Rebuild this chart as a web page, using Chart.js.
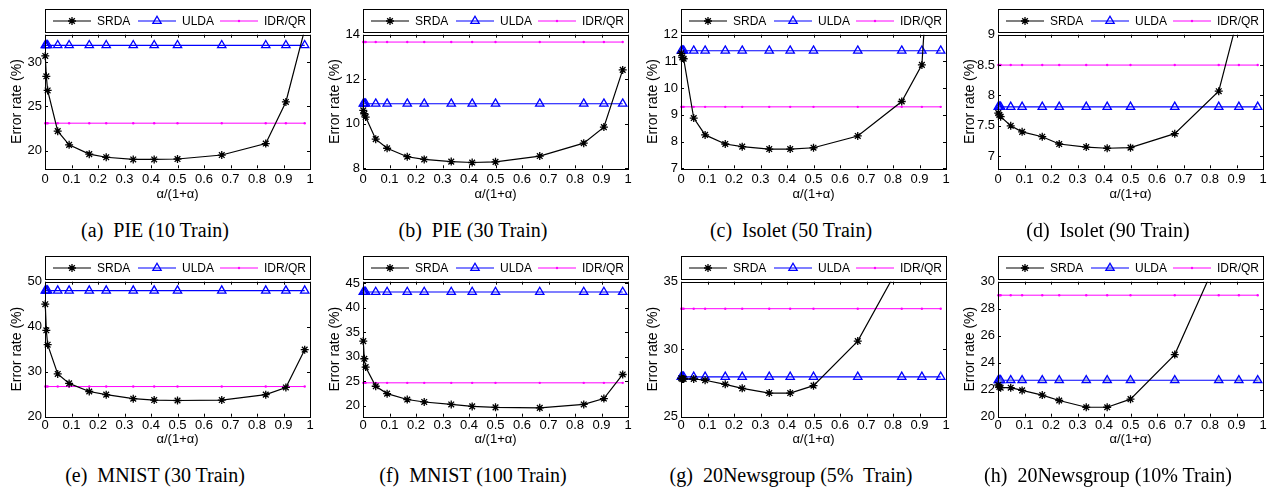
<!DOCTYPE html>
<html>
<head>
<meta charset="utf-8">
<script src="https://cdn.jsdelivr.net/npm/chart.js@4.4.1/dist/chart.umd.min.js"></script>
<style>
  html, body { margin: 0; padding: 0; background: #fff; }
  #figure { position: relative; width: 1271px; height: 489px; overflow: hidden; }
  .panel { position: absolute; width: 318px; height: 210px; }
  .caption {
    position: absolute; width: 310px; text-align: center;
    font-family: 'Liberation Serif', 'Times New Roman', serif;
    font-size: 20px; line-height: 24px; white-space: pre; color: #000;
  }
</style>
</head>
<body>
<div id="figure"></div>
<script>
// ------------------------------------------------------------
// Error rate vs alpha/(1+alpha) — SRDA / ULDA / IDR/QR, 8 panels
// ------------------------------------------------------------

const seriesNames = ['SRDA', 'ULDA', 'IDR/QR'];

// x positions: alpha/(1+alpha)
const alphaRatio = [0.001, 0.005, 0.01, 0.048, 0.091, 0.167, 0.231, 0.333, 0.412, 0.5, 0.667, 0.833, 0.909, 0.98];
const xTicks = [0, 0.1, 0.2, 0.3, 0.4, 0.5, 0.6, 0.7, 0.8, 0.9, 1];

// (a) PIE 10 Train
const srdaPie10 = [30.7, 28.4, 26.8, 22.2, 20.65, 19.6, 19.25, 19.0, 19.0, 19.05, 19.5, 20.8, 25.5, 33.7];
const uldaPie10 = [31.9, 31.9, 31.9, 31.9, 31.9, 31.9, 31.9, 31.9, 31.9, 31.9, 31.9, 31.9, 31.9, 31.9];
const idrPie10  = [23.1, 23.1, 23.1, 23.1, 23.1, 23.1, 23.1, 23.1, 23.1, 23.1, 23.1, 23.1, 23.1, 23.1];
const yTicksPie10 = [20, 25, 30];

// (b) PIE 30 Train
const srdaPie30 = [10.6, 10.45, 10.3, 9.31, 8.9, 8.52, 8.4, 8.3, 8.26, 8.29, 8.55, 9.13, 9.85, 12.42];
const uldaPie30 = [10.9, 10.9, 10.9, 10.9, 10.9, 10.9, 10.9, 10.9, 10.9, 10.9, 10.9, 10.9, 10.9, 10.9];
const idrPie30  = [13.67, 13.67, 13.67, 13.67, 13.67, 13.67, 13.67, 13.67, 13.67, 13.67, 13.67, 13.67, 13.67, 13.67];
const yTicksPie30 = [8, 10, 12, 14];

// (c) Isolet 50 Train
const srdaIso50 = [11.3, 11.15, 11.1, 8.88, 8.25, 7.91, 7.81, 7.72, 7.72, 7.77, 8.21, 9.5, 10.87, 22];
const uldaIso50 = [11.4, 11.4, 11.4, 11.4, 11.4, 11.4, 11.4, 11.4, 11.4, 11.4, 11.4, 11.4, 11.4, 11.4];
const idrIso50  = [9.3, 9.3, 9.3, 9.3, 9.3, 9.3, 9.3, 9.3, 9.3, 9.3, 9.3, 9.3, 9.3, 9.3];
const yTicksIso50 = [7, 8, 9, 10, 11, 12];

// (d) Isolet 90 Train
const srdaIso90 = [7.71, 7.68, 7.65, 7.5, 7.4, 7.32, 7.2, 7.15, 7.13, 7.14, 7.37, 8.07, 9.35, 10.5];
const uldaIso90 = [7.81, 7.81, 7.81, 7.81, 7.81, 7.81, 7.81, 7.81, 7.81, 7.81, 7.81, 7.81, 7.81, 7.81];
const idrIso90  = [8.5, 8.5, 8.5, 8.5, 8.5, 8.5, 8.5, 8.5, 8.5, 8.5, 8.5, 8.5, 8.5, 8.5];
const yTicksIso90 = [7, 7.5, 8, 8.5, 9];

// (e) MNIST 30 Train
const srdaMn30 = [45.0, 39.2, 36.0, 29.5, 27.4, 25.6, 24.9, 24.0, 23.7, 23.6, 23.7, 24.9, 26.5, 34.9];
const uldaMn30 = [48.0, 48.0, 48.0, 48.0, 48.0, 48.0, 48.0, 48.0, 48.0, 48.0, 48.0, 48.0, 48.0, 48.0];
const idrMn30  = [26.7, 26.7, 26.7, 26.7, 26.7, 26.7, 26.7, 26.7, 26.7, 26.7, 26.7, 26.7, 26.7, 26.7];
const yTicksMn30 = [20, 30, 40, 50];

// (f) MNIST 100 Train
const srdaMn100 = [33.2, 29.6, 27.9, 24.0, 22.5, 21.3, 20.8, 20.3, 19.9, 19.7, 19.6, 20.3, 21.5, 26.4];
const uldaMn100 = [43.2, 43.2, 43.2, 43.2, 43.2, 43.2, 43.2, 43.2, 43.2, 43.2, 43.2, 43.2, 43.2, 43.2];
const idrMn100  = [24.7, 24.7, 24.7, 24.7, 24.7, 24.7, 24.7, 24.7, 24.7, 24.7, 24.7, 24.7, 24.7, 24.7];
const yTicksMn100 = [20, 25, 30, 35, 40, 45];

// (g) 20Newsgroup 5% Train
const srdaNg5 = [27.85, 27.8, 27.8, 27.8, 27.7, 27.4, 27.1, 26.75, 26.75, 27.3, 30.6, 36.5, 39.0, 42.0];
const uldaNg5 = [27.95, 27.95, 27.95, 27.95, 27.95, 27.95, 27.95, 27.95, 27.95, 27.95, 27.95, 27.95, 27.95, 27.95];
const idrNg5  = [33.0, 33.0, 33.0, 33.0, 33.0, 33.0, 33.0, 33.0, 33.0, 33.0, 33.0, 33.0, 33.0, 33.0];
const yTicksNg5 = [25, 30, 35];

// (h) 20Newsgroup 10% Train
const srdaNg10 = [22.35, 22.2, 22.15, 22.15, 21.95, 21.6, 21.2, 20.7, 20.7, 21.3, 24.6, 31.9, 34.0, 36.0];
const uldaNg10 = [22.7, 22.7, 22.7, 22.7, 22.7, 22.7, 22.7, 22.7, 22.7, 22.7, 22.7, 22.7, 22.7, 22.7];
const idrNg10  = [29.0, 29.0, 29.0, 29.0, 29.0, 29.0, 29.0, 29.0, 29.0, 29.0, 29.0, 29.0, 29.0, 29.0];
const yTicksNg10 = [20, 22, 24, 26, 28, 30];

const panels = [
    { caption: '(a)  PIE (10 Train)',          srda: srdaPie10, ulda: uldaPie10, idr: idrPie10, yMin: 18,   yMax: 33.1, yTicks: yTicksPie10 },
    { caption: '(b)  PIE (30 Train)',          srda: srdaPie30, ulda: uldaPie30, idr: idrPie30, yMin: 8,    yMax: 14,   yTicks: yTicksPie30 },
    { caption: '(c)  Isolet (50 Train)',       srda: srdaIso50, ulda: uldaIso50, idr: idrIso50, yMin: 7,    yMax: 12,   yTicks: yTicksIso50 },
    { caption: '(d)  Isolet (90 Train)',       srda: srdaIso90, ulda: uldaIso90, idr: idrIso90, yMin: 6.8,  yMax: 9,    yTicks: yTicksIso90 },
    { caption: '(e)  MNIST (30 Train)',        srda: srdaMn30,  ulda: uldaMn30,  idr: idrMn30,  yMin: 20,   yMax: 50,   yTicks: yTicksMn30 },
    { caption: '(f)  MNIST (100 Train)',       srda: srdaMn100, ulda: uldaMn100, idr: idrMn100, yMin: 17.8, yMax: 45.3, yTicks: yTicksMn100 },
    { caption: '(g)  20Newsgroup (5%  Train)', srda: srdaNg5,   ulda: uldaNg5,   idr: idrNg5,   yMin: 25,   yMax: 35,   yTicks: yTicksNg5 },
    { caption: '(h)  20Newsgroup (10% Train)', srda: srdaNg10,  ulda: uldaNg10,  idr: idrNg10,  yMin: 20,   yMax: 30,   yTicks: yTicksNg10 },
];

// Layout of the 2x4 grid (pixels)
const colLeft = [0, 318, 636, 953];
const rowTop = [0, 245];
const rowPlotTop = [34.7, 36.7];
const rowPlotBottom = [168.3, 171.7];
const rowTickPad = [3.4, 1.0];
const canvasH = 210;

Chart.defaults.font.family = "'Liberation Sans', Arial, Helvetica, sans-serif";
Chart.defaults.color = '#000';

// MATLAB-style box with inward ticks + boxed legend on top
const matlabFrame = {
    id: 'matlabFrame',
    afterDraw(chart) {
        const { ctx, chartArea: a, scales: { x, y } } = chart;
        ctx.save();
        ctx.strokeStyle = '#000';
        ctx.lineWidth = 1;
        ctx.beginPath();
        x.ticks.forEach(t => {
            const px = Math.round(x.getPixelForValue(t.value)) + 0.5;
            ctx.moveTo(px, a.bottom); ctx.lineTo(px, a.bottom - 3);
            ctx.moveTo(px, a.top); ctx.lineTo(px, a.top + 3);
        });
        y.ticks.forEach(t => {
            const py = Math.round(y.getPixelForValue(t.value)) + 0.5;
            ctx.moveTo(a.left, py); ctx.lineTo(a.left + 3, py);
            ctx.moveTo(a.right, py); ctx.lineTo(a.right - 3, py);
        });
        ctx.stroke();
        ctx.strokeRect(Math.round(a.left) + 0.5, Math.round(a.top) + 0.5,
            Math.round(a.right - a.left), Math.round(a.bottom - a.top));

        // legend box
        const boxTop = Math.round(a.top - 26) + 0.5;
        const boxH = 23;
        const boxL = Math.round(a.left) + 0.5;
        const boxW = Math.round(a.right - a.left);
        ctx.fillStyle = '#fff';
        ctx.fillRect(boxL, boxTop, boxW, boxH);
        ctx.strokeRect(boxL, boxTop, boxW, boxH);

        const itemOffsets = [7.5, 92.5, 174.5];
        const lineLen = 38;
        const cy = boxTop + boxH / 2;
        ctx.font = "12px 'Liberation Sans', Arial, sans-serif";
        ctx.textBaseline = 'middle';
        ctx.textAlign = 'left';
        chart.data.datasets.forEach((ds, i) => {
            const x0 = boxL + itemOffsets[i];
            ctx.strokeStyle = ds.borderColor;
            ctx.lineWidth = ds.borderWidth;
            ctx.beginPath();
            ctx.moveTo(x0, cy); ctx.lineTo(x0 + lineLen, cy);
            ctx.stroke();
            ctx.strokeStyle = ds.pointBorderColor;
            ctx.fillStyle = ds.pointBackgroundColor;
            ctx.lineWidth = ds.pointBorderWidth;
            Chart.helpers.drawPoint(ctx, {
                pointStyle: ds.pointStyle, radius: ds.pointRadius,
                borderWidth: ds.pointBorderWidth, rotation: 0
            }, x0 + lineLen / 2, cy);
            ctx.fillStyle = '#000';
            ctx.fillText(ds.label, x0 + lineLen + 6, cy + 0.5);
        });
        ctx.restore();
    }
};

function toPoints(values) {
    return alphaRatio.map((x, i) => ({ x, y: values[i] }));
}

function renderPanel(p, idx) {
    const col = idx % 4;
    const row = Math.floor(idx / 4);
    const fig = document.getElementById('figure');

    const wrap = document.createElement('div');
    wrap.className = 'panel';
    wrap.style.left = colLeft[col] + 'px';
    wrap.style.top = rowTop[row] + 'px';
    const canvas = document.createElement('canvas');
    canvas.width = 318;
    canvas.height = canvasH;
    wrap.appendChild(canvas);
    fig.appendChild(wrap);

    const cap = document.createElement('div');
    cap.className = 'caption';
    cap.textContent = p.caption;
    cap.style.left = colLeft[col] + 'px';
    cap.style.top = (rowTop[row] + 218) + 'px';
    fig.appendChild(cap);

    new Chart(canvas, {
        type: 'line',
        data: {
            datasets: [{
                label: seriesNames[0],
                data: toPoints(p.srda),
                borderColor: '#000',
                borderWidth: 1.2,
                pointStyle: 'star',
                pointRadius: 4,
                pointBorderColor: '#000',
                pointBackgroundColor: '#000',
                pointBorderWidth: 1.3,
                clip: { left: 8, top: 0, right: 8, bottom: 8 },
            }, {
                label: seriesNames[1],
                data: toPoints(p.ulda),
                borderColor: '#0000ff',
                borderWidth: 1.2,
                pointStyle: 'triangle',
                pointRadius: 4.8,
                pointBorderColor: '#0000ff',
                pointBackgroundColor: idx === 7 ? 'rgba(120,140,210,0.5)' : 'rgba(0,0,0,0)',
                pointBorderWidth: 1.3,
                clip: false,
            }, {
                label: seriesNames[2],
                data: toPoints(p.idr),
                borderColor: '#ff00ff',
                borderWidth: 1,
                pointStyle: 'circle',
                pointRadius: 1.2,
                pointBorderColor: '#ff00ff',
                pointBackgroundColor: '#ff00ff',
                pointBorderWidth: 0,
                clip: false,
            }]
        },
        options: {
            responsive: false,
            animation: false,
            events: [],
            layout: { padding: { top: rowPlotTop[row], right: 8, left: 0, bottom: 0 } },
            plugins: { legend: { display: false }, tooltip: { enabled: false } },
            scales: {
                x: {
                    type: 'linear',
                    min: 0, max: 1,
                    grid: { display: false, drawTicks: false },
                    border: { display: false },
                    afterBuildTicks: s => { s.ticks = xTicks.map(v => ({ value: v })); },
                    afterFit: s => { s.height = canvasH - rowPlotBottom[row]; },
                    ticks: { font: { size: 13 }, padding: rowTickPad[row], maxRotation: 0, autoSkip: false,
                             callback: v => String(v) },
                    title: { display: true, text: 'α/(1+α)', font: { size: 13 }, padding: { bottom: 8.2 } },
                },
                y: {
                    min: p.yMin, max: p.yMax,
                    grid: { display: false, drawTicks: false },
                    border: { display: false },
                    afterBuildTicks: s => { s.ticks = p.yTicks.map(v => ({ value: v })); },
                    afterFit: s => { s.width = 45; },
                    ticks: { font: { size: 13 }, padding: 3, callback: v => String(v) },
                    title: { display: true, text: 'Error rate (%)', font: { size: 14 }, padding: { top: 8.6 } },
                }
            }
        },
        plugins: [matlabFrame]
    });
}

panels.forEach(renderPanel);
</script>
</body>
</html>
